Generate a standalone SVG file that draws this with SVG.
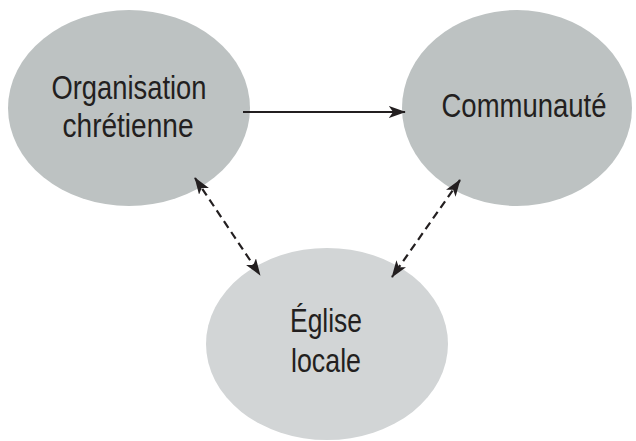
<svg xmlns="http://www.w3.org/2000/svg" width="636" height="441" viewBox="0 0 636 441">
<style>
.t{font-family:"Liberation Sans",Arial,sans-serif;font-size:33px;fill:#231f20;text-anchor:middle}
.c{stroke:#231f20;stroke-width:2.2;fill:none}
.d{stroke-dasharray:8 5}
</style>
<defs>
<marker id="ah" viewBox="0 0 20 14" refX="19" refY="7" markerWidth="17" markerHeight="12" markerUnits="userSpaceOnUse" orient="auto-start-reverse">
<path d="M0,0 L20,7 L0,14 L5,7 Z" fill="#231f20"/>
</marker>
</defs>
<rect width="636" height="441" fill="#fff"/>
<g id="org">
<ellipse cx="129" cy="108" rx="121" ry="98" fill="#bdc2c2"/>
<text class="t" x="129" y="99" textLength="155" lengthAdjust="spacingAndGlyphs">Organisation</text>
<text class="t" x="128" y="137" textLength="131" lengthAdjust="spacingAndGlyphs">chrétienne</text>
</g>
<g id="comm">
<ellipse cx="517" cy="108" rx="115" ry="98" fill="#bdc2c2"/>
<text class="t" x="524" y="117" textLength="165" lengthAdjust="spacingAndGlyphs">Communauté</text>
</g>
<g id="eglise">
<ellipse cx="327" cy="344" rx="121" ry="96" fill="#d2d5d6"/>
<text class="t" x="326" y="332" textLength="72" lengthAdjust="spacingAndGlyphs">Église</text>
<text class="t" x="326" y="372" textLength="70" lengthAdjust="spacingAndGlyphs">locale</text>
</g>
<g id="connectors">
<line class="c" x1="243" y1="112" x2="405" y2="112" marker-end="url(#ah)"/>
<line class="c d" x1="195" y1="178" x2="260" y2="275" marker-start="url(#ah)" marker-end="url(#ah)"/>
<line class="c d" x1="460" y1="180" x2="392" y2="277" marker-start="url(#ah)" marker-end="url(#ah)"/>
</g>
</svg>
